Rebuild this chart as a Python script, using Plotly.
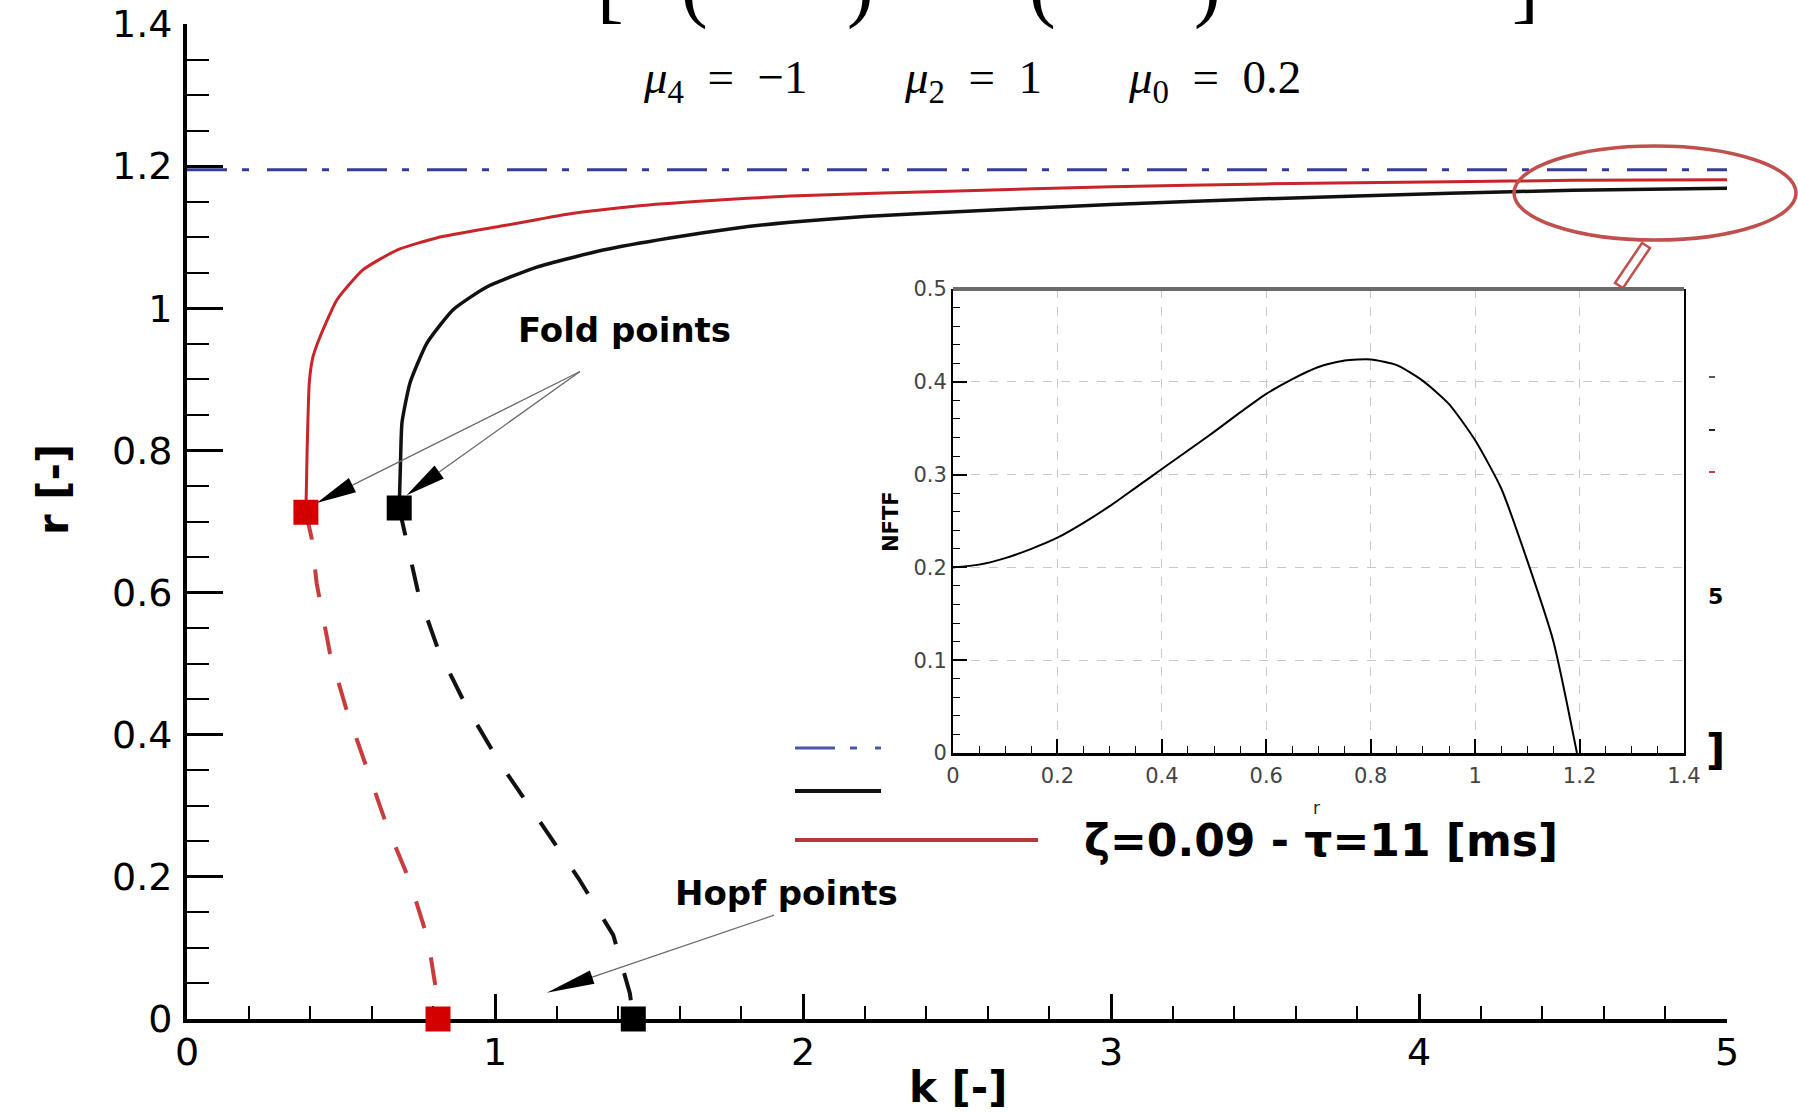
import math
import plotly.graph_objects as go

# ---------------- data ----------------
# stable branches (solid)
red_k = [0.386, 0.390, 0.397, 0.408, 0.432, 0.487, 0.571, 0.682, 0.810, 1.026, 1.244, 1.461,
         1.675, 1.958, 2.5, 3.0, 3.5, 4.1, 4.5, 5.0]
red_r = [0.713, 0.800, 0.895, 0.930, 0.960, 1.012, 1.054, 1.082, 1.099, 1.116, 1.133, 1.144,
         1.151, 1.158, 1.165, 1.171, 1.175, 1.178, 1.180, 1.181]
black_k = [0.689, 0.693, 0.698, 0.724, 0.779, 0.864, 0.973, 1.136, 1.351, 1.568, 1.786, 1.958,
           2.2, 2.5, 3.0, 3.5, 4.1, 4.5, 5.0]
black_r = [0.719, 0.780, 0.839, 0.895, 0.951, 0.998, 1.030, 1.058, 1.082, 1.099, 1.113, 1.121,
           1.129, 1.136, 1.146, 1.154, 1.162, 1.166, 1.169]
# unstable branches (dashed)
red_u_k = [0.386, 0.405, 0.421, 0.464, 0.518, 0.583, 0.648, 0.724, 0.783, 0.812, 0.815]
red_u_r = [0.713, 0.676, 0.613, 0.515, 0.435, 0.355, 0.273, 0.193, 0.111, 0.031, 0.0]
black_u_k = [0.689, 0.708, 0.751, 0.816, 0.908, 1.016, 1.141, 1.271, 1.384, 1.438, 1.449]
black_u_r = [0.719, 0.684, 0.599, 0.519, 0.439, 0.360, 0.280, 0.198, 0.118, 0.036, 0.0]
# limit amplitude (dash-dot)
r_limit = 1.195
limit_k = [0.0, 5.0]
# fold and Hopf points
fold_k = [0.386, 0.689]
fold_r = [0.713, 0.719]
hopf_k = [0.815, 1.449]
hopf_r = [0.0, 0.0]
point_colors = ["#d40000", "#000000"]

# inset: NFTF(r)
inset_r = [0, 0.05, 0.1, 0.15, 0.2, 0.25, 0.3, 0.35, 0.4, 0.45, 0.5, 0.55, 0.6, 0.65, 0.7,
           0.75, 0.8, 0.85, 0.9, 0.95, 1.0, 1.05, 1.1, 1.15, 1.195]
inset_nftf = [0.200, 0.203, 0.210, 0.220, 0.232, 0.248, 0.266, 0.286, 0.306, 0.326, 0.346,
              0.367, 0.387, 0.403, 0.416, 0.423, 0.424, 0.418, 0.401, 0.376, 0.337, 0.285,
              0.207, 0.120, 0.0]

legend_label = "ζ=0.09 - τ=11 [ms]"
mu_labels = ["<i>μ</i><sub>4</sub>\u2002=\u2002−1",
             "<i>μ</i><sub>2</sub>\u2002=\u20021",
             "<i>μ</i><sub>0</sub>\u2002=\u20020.2"]

# annotation anchors (data coords)
fold_text_pos = (1.419, 0.969)
fold_arrow_start = (1.276, 0.911)
fold_arrow_tips = [(0.421, 0.726), (0.713, 0.737)]
hopf_text_pos = (1.945, 0.177)
hopf_arrow_start = (1.906, 0.146)
hopf_arrow_tip = (1.168, 0.037)

# ---------------- geometry ----------------
W, H = 1798, 1113
ML, MR, MT, MB = 187, 71, 24, 94
PW, PH = W - ML - MR, H - MT - MB
K_MAX, R_MAX = 5.0, 1.4
SX, SY = PW / K_MAX, PH / R_MAX


def pxx(x):
    return (x - ML) / PW


def pxy(y):
    return (H - MB - y) / PH


fig = go.Figure()

# limit line
fig.add_trace(go.Scatter(x=limit_k, y=[r_limit, r_limit], mode="lines",
                         line=dict(color="#363c94", width=3, dash="40px,15px,7px,18px"),
                         hoverinfo="skip", showlegend=False))
# stable curves
fig.add_trace(go.Scatter(x=red_k, y=red_r, mode="lines",
                         line=dict(color="#c8242a", width=3, shape="spline", smoothing=0.5),
                         hoverinfo="skip", showlegend=False))
fig.add_trace(go.Scatter(x=black_k, y=black_r, mode="lines",
                         line=dict(color="#111111", width=3.5, shape="spline", smoothing=0.5),
                         hoverinfo="skip", showlegend=False))
# unstable curves
fig.add_trace(go.Scatter(x=red_u_k, y=red_u_r, mode="lines",
                         line=dict(color="#c83c3c", width=4, dash="28px,30px"),
                         hoverinfo="skip", showlegend=False))
fig.add_trace(go.Scatter(x=black_u_k, y=black_u_r, mode="lines",
                         line=dict(color="#111111", width=4, dash="28px,30px"),
                         hoverinfo="skip", showlegend=False))
# fold / hopf markers
fig.add_trace(go.Scatter(x=fold_k + hopf_k, y=fold_r + hopf_r, mode="markers",
                         marker=dict(symbol="square", size=25, color=point_colors * 2,
                                     line=dict(width=0)),
                         cliponaxis=False, hoverinfo="skip", showlegend=False))

# inset curve
fig.add_trace(go.Scatter(x=inset_r, y=inset_nftf, mode="lines", xaxis="x2", yaxis="y2",
                         line=dict(color="black", width=2, shape="spline", smoothing=0.6),
                         hoverinfo="skip", showlegend=False))

shapes = []
annotations = []


def arrow(start, tip, head_len, half_w):
    dxp = (start[0] - tip[0]) * SX
    dyp = (start[1] - tip[1]) * SY
    n = math.hypot(dxp, dyp)
    ux, uy = dxp / n, dyp / n
    bx, by = tip[0] + head_len * ux / SX, tip[1] + head_len * uy / SY
    p1 = (bx - half_w * uy / SX, by + half_w * ux / SY)
    p2 = (bx + half_w * uy / SX, by - half_w * ux / SY)
    shapes.append(dict(type="line", xref="x", yref="y", x0=start[0], y0=start[1],
                       x1=bx, y1=by, line=dict(color="#6a6a6a", width=1.3), layer="above"))
    shapes.append(dict(type="path", xref="x", yref="y",
                       path=f"M{tip[0]},{tip[1]} L{p1[0]},{p1[1]} L{p2[0]},{p2[1]} Z",
                       fillcolor="black", line=dict(width=0), layer="above"))


for tip in fold_arrow_tips:
    arrow(fold_arrow_start, tip, 40, 8)
arrow(hopf_arrow_start, hopf_arrow_tip, 48, 7)

bold = dict(family="DejaVu Sans", color="black", weight="bold")
annotations.append(dict(x=fold_text_pos[0], y=fold_text_pos[1], xref="x", yref="y",
                        text="Fold points", showarrow=False, xanchor="center",
                        yanchor="middle", font=dict(size=34, **bold)))
annotations.append(dict(x=hopf_text_pos[0], y=hopf_text_pos[1], xref="x", yref="y",
                        text="Hopf points", showarrow=False, xanchor="center",
                        yanchor="middle", font=dict(size=34, **bold)))

# axis titles
annotations.append(dict(x=pxx(958), y=pxy(1087), xref="paper", yref="paper", text="k [-]",
                        showarrow=False, xanchor="center", yanchor="middle",
                        font=dict(size=42, **bold)))
annotations.append(dict(x=pxx(53), y=pxy(490), xref="paper", yref="paper", text="r [-]",
                        textangle=-90, showarrow=False, xanchor="center", yanchor="middle",
                        font=dict(size=42, **bold)))

# formula line (partially cut off at top) and parameters
for xpos, ch in [(610, "["), (694, "("), (860, ")"), (1042, "("), (1207, ")"), (1525, "]")]:
    annotations.append(dict(x=pxx(xpos), y=pxy(32), xref="paper", yref="paper", text=ch,
                            showarrow=False, xanchor="center", yanchor="bottom",
                            font=dict(family="Liberation Serif", size=80, color="black")))
for xpos, txt in zip([641, 902, 1126], mu_labels):
    annotations.append(dict(x=pxx(xpos), y=pxy(80), xref="paper", yref="paper", text=txt,
                            showarrow=False, xanchor="left", yanchor="middle",
                            font=dict(family="Liberation Serif", size=47, color="black")))

# legend (partially hidden behind inset)
shapes.append(dict(type="line", xref="paper", yref="paper", x0=pxx(795), x1=pxx(881),
                   y0=pxy(748), y1=pxy(748),
                   line=dict(color="#4a55b0", width=3, dash="40px,15px,7px,18px")))
shapes.append(dict(type="line", xref="paper", yref="paper", x0=pxx(795), x1=pxx(881),
                   y0=pxy(791), y1=pxy(791), line=dict(color="#111111", width=4)))
shapes.append(dict(type="line", xref="paper", yref="paper", x0=pxx(795), x1=pxx(1038),
                   y0=pxy(840), y1=pxy(840), line=dict(color="#b8383a", width=4)))
annotations.append(dict(x=pxx(1082), y=pxy(840), xref="paper", yref="paper",
                        text=legend_label, showarrow=False, xanchor="left", yanchor="middle",
                        font=dict(size=44, **bold)))
annotations.append(dict(x=pxx(1704), y=pxy(750), xref="paper", yref="paper", text="]",
                        showarrow=False, xanchor="left", yanchor="middle",
                        font=dict(size=42, **bold)))
annotations.append(dict(x=pxx(1706), y=pxy(596), xref="paper", yref="paper", text="5",
                        showarrow=False, xanchor="left", yanchor="middle",
                        font=dict(size=22, **bold)))
for yy, col in [(377, "#555555"), (430, "#222222"), (472, "#c83c3c")]:
    shapes.append(dict(type="line", xref="paper", yref="paper", x0=pxx(1709), x1=pxx(1715),
                       y0=pxy(yy), y1=pxy(yy), line=dict(color=col, width=2)))

# zoom ellipse and connector
shapes.append(dict(type="circle", xref="paper", yref="paper", x0=pxx(1514), x1=pxx(1796),
                   y0=pxy(240), y1=pxy(146), line=dict(color="#c0504d", width=3.5),
                   layer="above"))
shapes.append(dict(type="path", xref="paper", yref="paper",
                   path=(f"M{pxx(1650)},{pxy(248)} L{pxx(1623)},{pxy(288)} "
                         f"L{pxx(1615)},{pxy(283)} L{pxx(1642)},{pxy(243)} Z"),
                   fillcolor="white", line=dict(color="#c0504d", width=2.5), layer="above"))

# inset frame top (gray thick)
shapes.append(dict(type="line", xref="x2 domain", yref="y2 domain", x0=0, x1=1, y0=1, y1=1,
                   line=dict(color="#6b6b6b", width=4), layer="above"))

# inset titles
annotations.append(dict(x=pxx(891), y=pxy(522), xref="paper", yref="paper", text="NFTF",
                        textangle=-90, showarrow=False, xanchor="center", yanchor="middle",
                        font=dict(size=21, **bold)))
annotations.append(dict(x=pxx(1316), y=pxy(808), xref="paper", yref="paper", text="r",
                        showarrow=False, xanchor="center", yanchor="middle",
                        font=dict(family="DejaVu Sans", size=17, color="#222")))

tickfont_main = dict(family="DejaVu Sans", size=38, color="black")
tickfont_inset = dict(family="DejaVu Sans", size=21, color="#444444")

fig.update_layout(
    width=W, height=H,
    margin=dict(l=ML, r=MR, t=MT, b=MB, pad=0, autoexpand=False),
    paper_bgcolor="white", plot_bgcolor="white",
    showlegend=False,
    xaxis=dict(range=[0, K_MAX], tick0=0, dtick=1, ticks="inside", ticklen=25, tickwidth=2.5,
               tickcolor="black", showline=True, linewidth=4, linecolor="black",
               showgrid=False, zeroline=False, tickfont=tickfont_main, ticklabelstandoff=-4,
               minor=dict(dtick=0.2, ticks="inside", ticklen=13, tickwidth=1.5,
                          tickcolor="black", showgrid=False),
               layer="below traces", domain=[0, 1], anchor="y", automargin=False),
    yaxis=dict(range=[0, R_MAX], tick0=0, dtick=0.2, ticks="inside", ticklen=36, tickwidth=2.5,
               tickcolor="black", showline=True, linewidth=4, linecolor="black",
               showgrid=False, zeroline=False, tickfont=tickfont_main, ticklabelstandoff=3,
               minor=dict(dtick=0.05, ticks="inside", ticklen=22, tickwidth=1.5,
                          tickcolor="black", showgrid=False),
               layer="below traces", domain=[0, 1], anchor="x", automargin=False),
    xaxis2=dict(domain=[pxx(953), pxx(1684)], anchor="y2", range=[0, 1.4], tick0=0, dtick=0.2,
                ticks="inside", ticklen=14, tickwidth=2, tickcolor="black",
                showline=True, linewidth=3, linecolor="black", mirror=False,
                showgrid=True, gridcolor="#c8c8c8", gridwidth=1, griddash="dash",
                zeroline=False, tickfont=tickfont_inset, ticklabelstandoff=2,
                automargin=False,
                minor=dict(dtick=0.05, ticks="inside", ticklen=7, tickwidth=1,
                           tickcolor="black", showgrid=False)),
    yaxis2=dict(domain=[pxy(753), pxy(289)], anchor="x2", range=[0, 0.5], tick0=0, dtick=0.1,
                ticks="inside", ticklen=14, tickwidth=2, tickcolor="black",
                showline=True, linewidth=2, linecolor="black", mirror=True,
                showgrid=True, gridcolor="#c8c8c8", gridwidth=1, griddash="dash",
                zeroline=False, tickfont=tickfont_inset, ticklabelstandoff=0,
                automargin=False,
                minor=dict(dtick=0.02, ticks="inside", ticklen=7, tickwidth=1,
                           tickcolor="black", showgrid=False)),
    shapes=shapes,
    annotations=annotations,
)

fig.write_html("out.html")
